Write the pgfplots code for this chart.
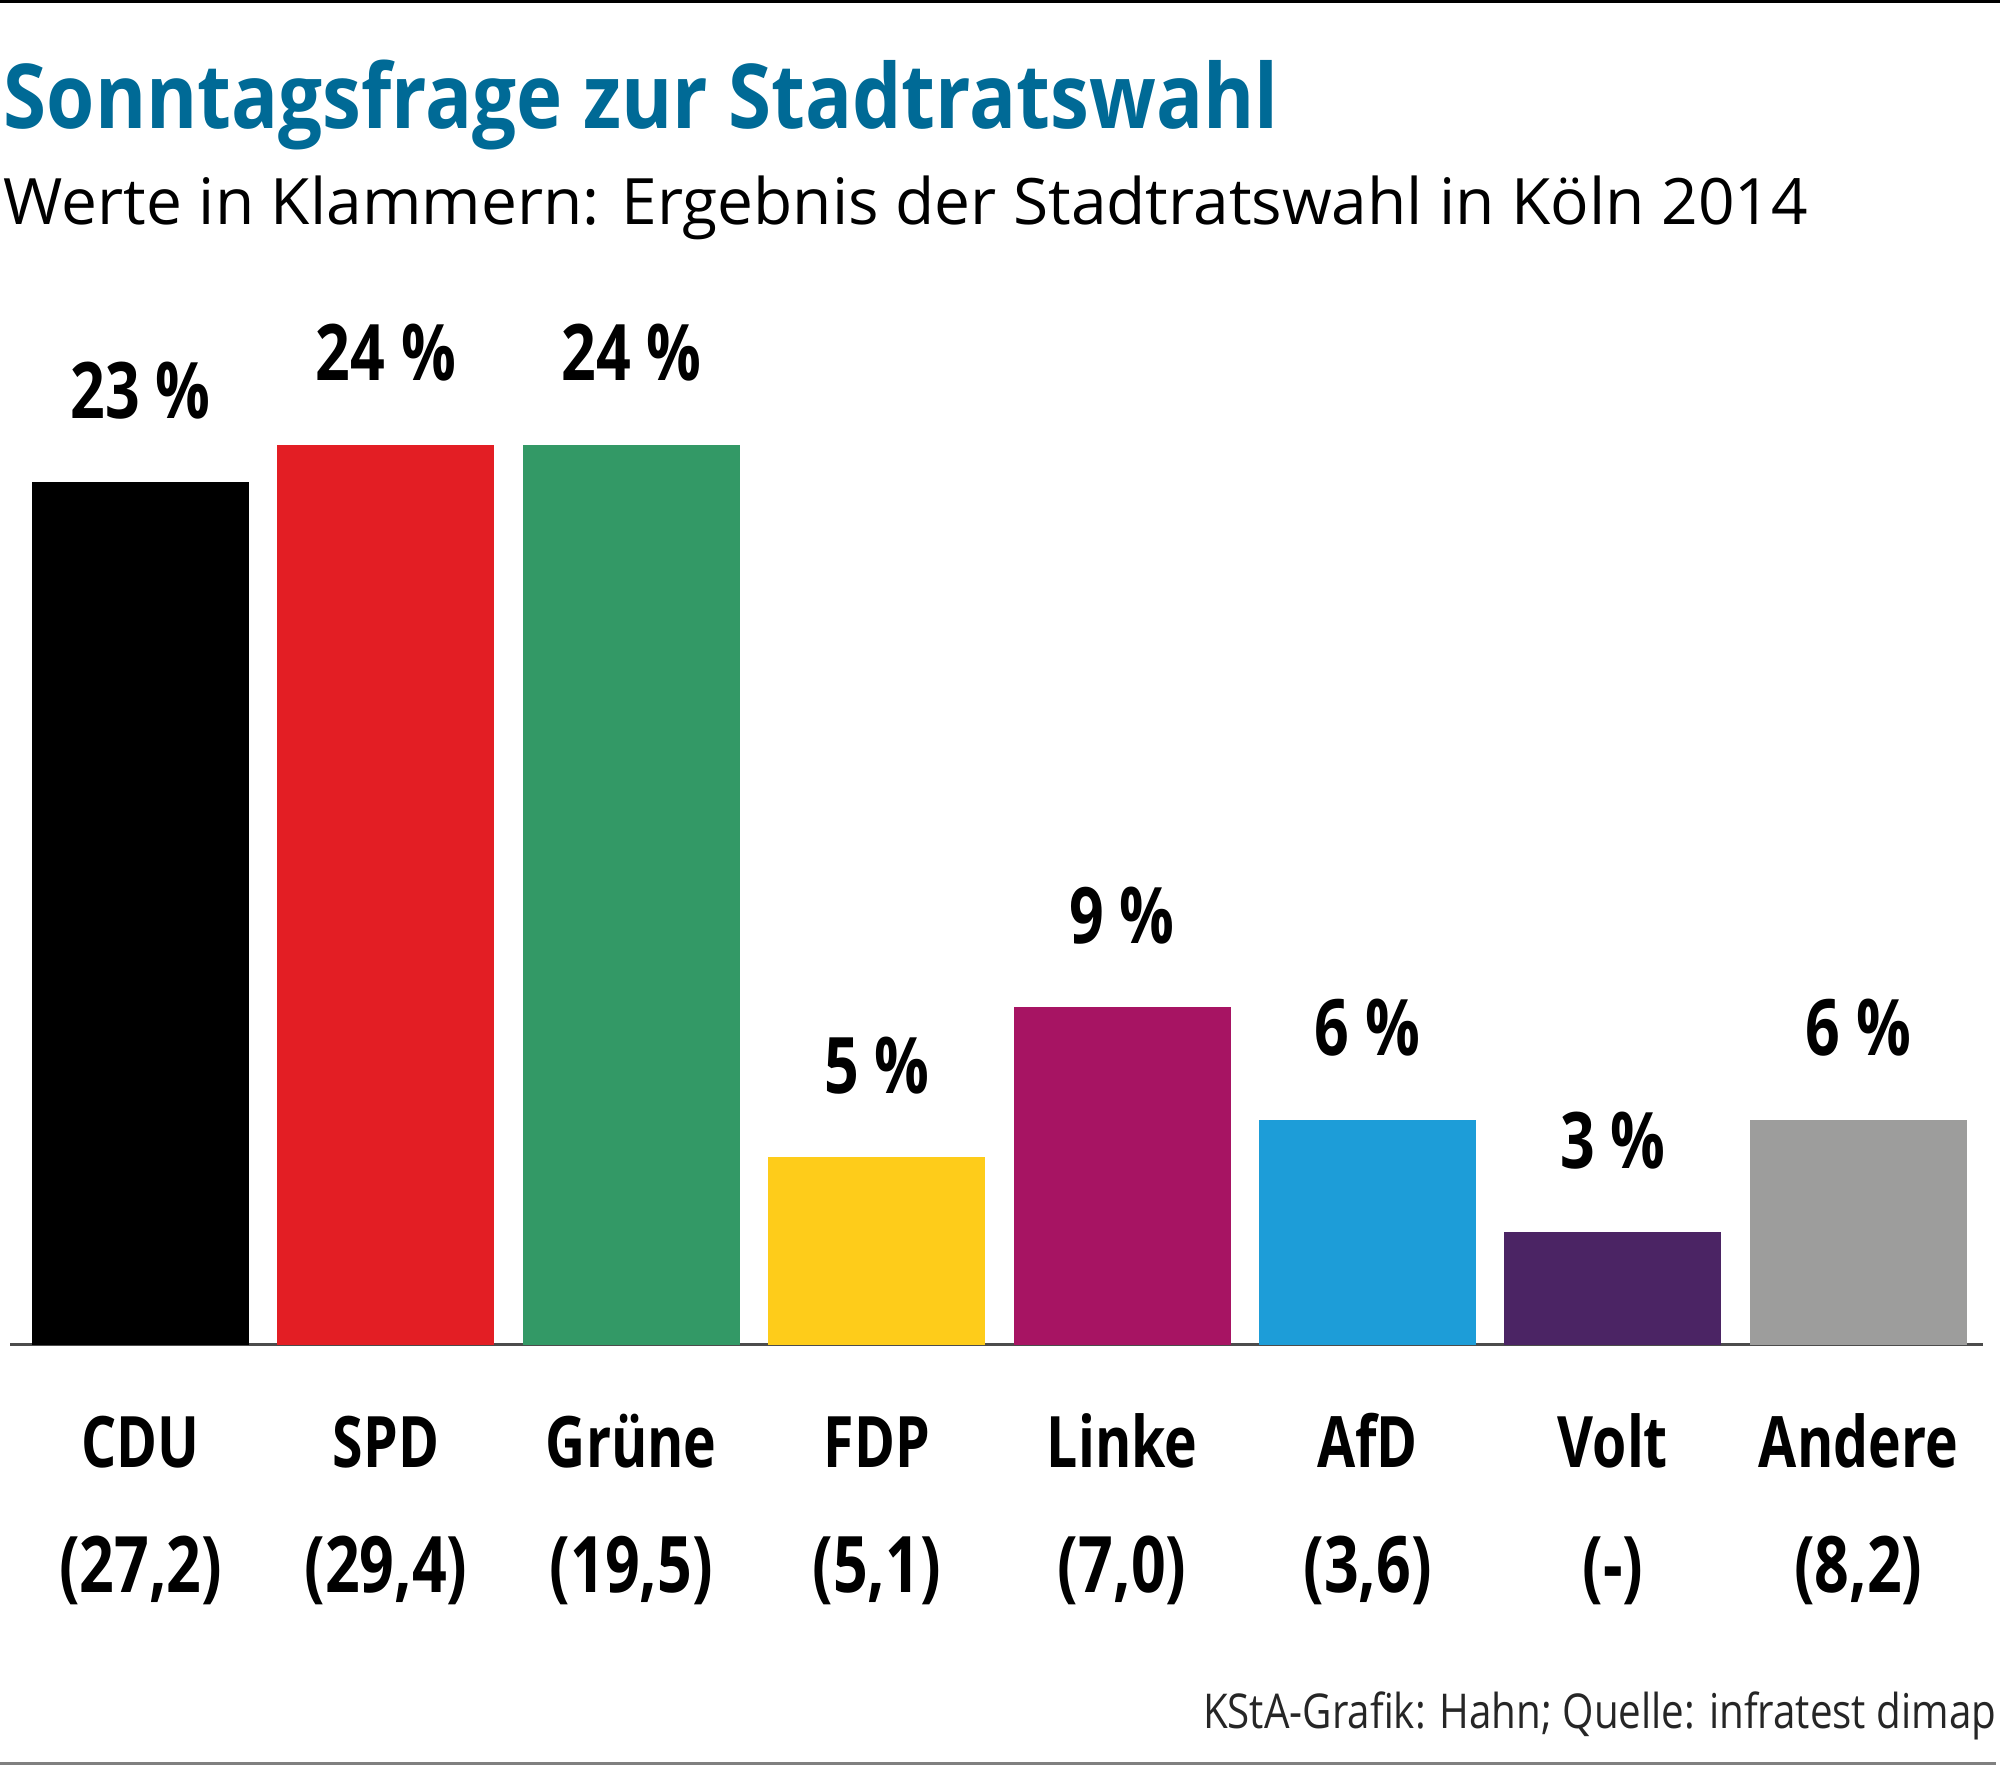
\documentclass[border=0pt]{standalone}
\usepackage{pgfplots}
\pgfplotsset{compat=1.18}
\usepackage{fontspec}
\setmainfont{Open Sans}
\newfontfamily\titlefont{Open Sans}[FakeStretch=0.871]
\newfontfamily\condfont{Open Sans}[FakeStretch=0.78]
\newfontfamily\footfont{Open Sans}[FakeStretch=0.84]
\definecolor{titleblue}{RGB}{0,106,150}
\definecolor{cdu}{RGB}{0,0,0}
\definecolor{spd}{RGB}{227,30,36}
\definecolor{gruene}{RGB}{51,153,102}
\definecolor{fdp}{RGB}{254,204,26}
\definecolor{linke}{RGB}{167,20,99}
\definecolor{afd}{RGB}{29,157,216}
\definecolor{volt}{RGB}{75,36,100}
\definecolor{andere}{RGB}{157,157,156}
\begin{document}
\begin{tikzpicture}
\path[use as bounding box] (0bp,0bp) rectangle (500bp,441.5bp);
\begin{axis}[
  at={(2.5bp,105.25bp)}, anchor=south west,
  scale only axis, width=493.25bp, height=281.25bp,
  xmin=-0.532, xmax=7.508, ymin=0, ymax=30,
  axis x line*=bottom, axis y line=none,
  axis line style={draw=black!70, line width=0.75bp},
  ybar, bar width=54.25bp, bar shift=0pt,
  xtick={0,...,7},
  xticklabels={CDU,SPD,Grüne,FDP,Linke,AfD,Volt,Andere},
  major tick length=0pt,
  xticklabel style={anchor=base, inner sep=0pt, yshift=-30.6bp,
    font=\condfont\bfseries\fontsize{17.75bp}{20bp}\selectfont},
  extra x ticks={0,...,7},
  extra x tick labels={{(27,2)},{(29,4)},{(19,5)},{(5,1)},{(7,0)},{(3,6)},{(-)},{(8,2)}},
  extra x tick style={xticklabel style={yshift=-31.15bp,
    font=\condfont\bfseries\fontsize{19.5bp}{22bp}\selectfont}},
  point meta=explicit symbolic,
  nodes near coords,
  every node near coord/.append style={anchor=base, yshift=16bp, inner sep=0pt, text=black,
    font=\condfont\bfseries\fontsize{19.5bp}{22bp}\selectfont},
  clip=false,
]
\addplot[fill=cdu, draw=none] coordinates {(0,23) [23 \%]};
\addplot[fill=spd, draw=none] coordinates {(1,24) [24 \%]};
\addplot[fill=gruene, draw=none] coordinates {(2,24) [24 \%]};
\addplot[fill=fdp, draw=none] coordinates {(3,5) [5 \%]};
\addplot[fill=linke, draw=none] coordinates {(4,9) [9 \%]};
\addplot[fill=afd, draw=none] coordinates {(5,6) [6 \%]};
\addplot[fill=volt, draw=none] coordinates {(6,3) [3 \%]};
\addplot[fill=andere, draw=none] coordinates {(7,6) [6 \%]};
\end{axis}
\begin{scope}[x=0.25bp,y=0.25bp]
\draw[black, line width=0.75bp] (0,1764.5) -- (2000,1764.5);
\draw[black!50, line width=0.75bp] (0,2.5) -- (1996,2.5);
\node[anchor=base west, inner sep=0pt, text=titleblue,
  font=\titlefont\bfseries\fontsize{22.4bp}{26bp}\selectfont] at (3,1638) {Sonntagsfrage zur Stadtratswahl};
\node[anchor=base west, inner sep=0pt,
  font=\fontsize{16bp}{20bp}\selectfont] at (3,1542) {Werte in Klammern: Ergebnis der Stadtratswahl in Köln 2014};
\node[anchor=base east, inner sep=0pt, text=black!85,
  font=\footfont\fontsize{12bp}{14bp}\selectfont] at (1997,38) {KStA-Grafik: Hahn; Quelle: infratest dimap};
\end{scope}
\end{tikzpicture}
\end{document}
